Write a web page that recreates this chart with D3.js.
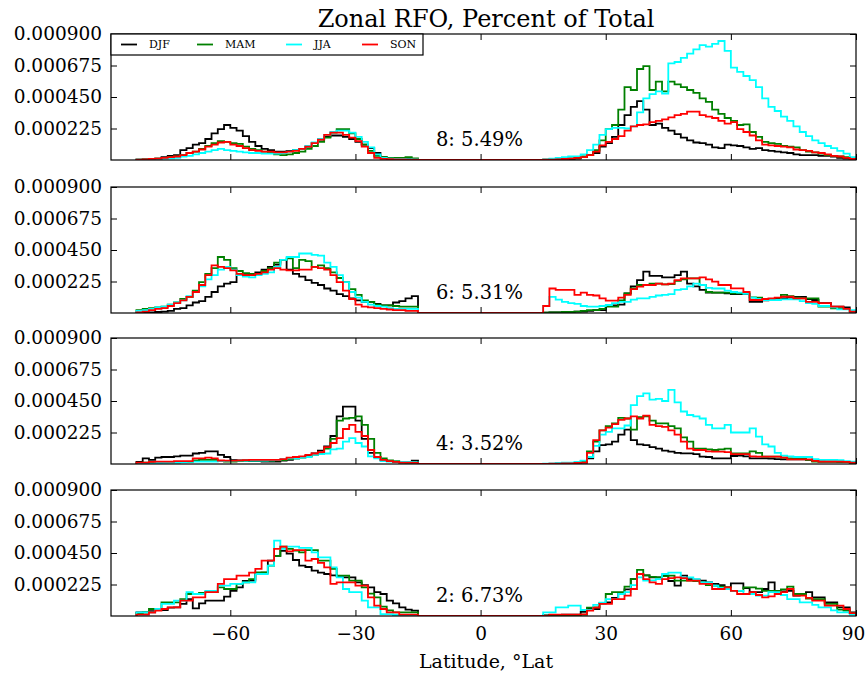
<!DOCTYPE html>
<html>
<head>
<meta charset="utf-8">
<script src="https://d3js.org/d3.v7.min.js"></script>
<style>
  body { margin: 0; background: #fff; }
  svg text { font-family: "DejaVu Serif", serif; fill: #000; }
</style>
</head>
<body>
<div id="chart"></div>
<script>
// histogram values are in units of 1e-5, one value per 1.5 deg latitude bin
var UNIT = 1e-5;
var binWidth = 1.5;
var southStart = -82.5;  // south bins run from -82.5 to -15
var northStart = 15;     // north bins run from 15 to 90

var seasons = ["DJF", "MAM", "JJA", "SON"];
var seasonColors = ["#000000", "#008000", "#00ffff", "#ff0000"];
var panelIds = [8, 6, 4, 2];
var panelPct = ["5.49", "5.31", "3.52", "6.73"];
var yTicks = [0.000225, 0.000450, 0.000675, 0.000900];
var xTicks = [-60, -30, 0, 30, 60, 90];

// ---- panel 8 ----
var djf8S = [0.3,0.5,0.8,1,2,3,3.5,7,8.5,11, 12,15,19,22,25,23,21,17,13,10, 8,7,6,6,6.5,7,8,9.5,12,14.5, 16.5,17.5,17.5,16.5,15,13,11,8.5,5,2, 1.5,1.2,1,1,0.8];
var mam8S = [0.3,0.5,0.8,1,1.5,2,2.5,3.5,5,6, 8,10,12,13.5,13,12,11.5,9.5,8,7, 6,5,4,3.5,4,5,6,8,10,13, 16,19.5,22,22,19,15,11,6.5,3,2, 1.5,1.5,1.5,2,1.2];
var jja8S = [0.2,0.3,0.5,0.7,1,1.2,1.5,2.5,3,4, 5,6,7,8,7,6.5,6,5.5,5,5, 4.5,4.5,4.5,5,6,7,8,10,12.5,15, 18,20,21,21,19.5,16.5,13,9,4,1.5, 1,0.8,0.7,0.6,0.5];
var son8S = [0.3,0.5,0.8,1,1.5,2,2.5,3.5,5,6, 7.5,9.5,11,12.5,13,11,10,8.5,7,6.5, 6,6,5.5,5.5,6,6.5,8,9.5,12,14.5, 18,19.5,19.5,18,16,13.5,9.5,5,1.5,0.8, 0.6,0.5,0.4,0.3,0.3];
var djf8N = [0,0.2,0.3,0.5,0.7,1,2,3.5,5,9.5, 12,16.5,25,32,38,42,36,25,26,23, 21,18.5,16,14,12.5,12,11,9,8.5,11, 10.5,10,9,8,8.5,7,6.5,6,5.5,5, 4,3.5,3.5,3.5,3,3,2.5,1.5,1,0.5];
var mam8N = [0.3,0.5,0.7,1,1.2,1.5,2.5,3.5,7,14, 22,25,36,52,50,65,67,50,56,49, 56,54,52,50,48,44,41.5,36,33,30, 28,25,25.5,20,16.5,13,12,11.5,10,9.5, 9,7,6,5.5,4.5,3.5,3,2.5,2,1];
var jja8N = [0.5,1,1.5,2,2.5,2.5,4,7,11,18, 22,23,23,22.5,24,34,44,47,49,47.5, 69,70,73,76,79,82,81,83,85,78, 66,63,60,57,52,44,38,35,31,28, 24,20,17,14,12,10,8.5,6.5,4.5,2];
var son8N = [0.2,0.3,0.5,0.7,1,1.5,2,3.5,6,10.5, 13,15,17,21,24,25,25.5,27,28,29, 30.5,32,33,34.5,34.5,32,31,30,28,26, 27,22,20,17.5,14,11,10.5,10,9.5,9, 7.5,7,6.5,5.5,5,4,3,2.5,1.5,0.7];

// ---- panel 6 ----
var djf6S = [0.2,0.3,0.5,0.7,1,1.5,3,3.5,5.5,7.5, 8.5,11.5,15,19,21,22,27,27,27.5,29, 31,33,34.5,38,31,28,26,23.5,21.5,20, 17.5,16,13.5,12,10.5,9,8,8,6.5,5.5, 5.5,7.5,8.5,10.5,12];
var mam6S = [2,3,3.5,4,4.5,6,7.5,10,11.5,16, 22,28,32,40,38,32,30,28.5,28,28, 30,32,36,38,39,32,38,37,33,34, 32,29,25,22,17,13,9,8,6,5.5, 5.5,5,4.5,4.5,4.5];
var jja6S = [1.5,2,3,4,4.5,6,7.5,9,12,15, 19,24,27,31,33,31,27,26,25.5,27, 28,29,33,38,40,40,42.5,42.5,41.5,41, 36,33,27,22,15,11,8,6,5,4.5, 3.5,3,3,3,3];
var son6S = [0.5,1,2,3,3.5,5,7,9,11.5,15, 20,27,34,33,32,30.5,28,27,27,28, 29,31,32,31,30.5,30.5,31,31,33,32, 31,27,22,16,10,6,4.5,4,3.5,3, 2.5,2,2,1.5,1.5];
var djf6N = [0.3,0.5,0.5,0.5,0.7,1,1,1.5,2,2, 5,5.5,6,14,19,23.5,29.5,26.5,26.5,25.5, 25.5,27,29.5,21,19,16.5,14.5,14.5,14.5,14, 13.5,13.5,13.5,8,8,9,9.5,10,10.5,11, 11.5,11.5,10,9.3,7,7,4.5,4.5,4,1];
var mam6N = [0.3,0.5,0.5,0.7,0.7,1,1.5,2,2,3, 4.5,4.5,9,14,17.5,20,20,21,21,20.5, 20.7,23,24,24.8,24.8,20,15,14.5,14.5,14.5, 14,14,14,11.2,11,10,9.8,9.8,12.9,12, 11,10.5,10.5,10.5,4.5,4.5,3.3,3.3,3,1.5];
var jja6N = [5,11.5,9.5,8,7,6.5,5,4.5,4.5,5, 5.7,7,8,8,9.5,10.5,10.5,11.5,12.5,13, 13.5,16.5,17,19,21,20,18,17.5,17.5,16, 15,14.5,13.6,11,10,9.3,9.3,9.3,9.8,9.8, 9.8,8.5,7,6.5,5,5,4,2.6,2.6,2];
var son6N = [5,17.5,16.5,16.5,16.5,13,14.5,13,12.5,10.5, 8.8,8.8,11,13,17,18.8,20,20,21,20.5, 21,23.5,24.8,24.8,24.8,25.5,24,22.4,20,20, 17.6,17.6,15,9.3,9.3,10,10.5,11,11.6,11.6, 10.5,10.5,8,8,7,7,4.5,4.5,3,1];

// ---- panel 4 ----
var djf4S = [1.5,4,3,4.5,5,5,5.5,6,6,7.5, 8,9,9,6.5,5,3,2.5,2.5,2,2, 1.8,1.8,1.8,2.5,3,4,5,6,7.5,9.5, 12.5,20,34,41,41,31,18,8,5,3, 2,1.5,1.2,1.2,2.4];
var mam4S = [0.5,1,1,1,1.2,1.2,1.2,1.5,1.5,2.5, 3,3,3,2,1.7,1.7,2,2.4,2.4,2.4, 2.4,2.4,2.6,2.8,3.5,4,4.5,5.5,6.5,8, 11,18,31,32.5,33,34,28,18,8,4, 2.5,2,1.2,1,1];
var jja4S = [0.3,0.5,0.5,0.7,0.8,1,1,1.2,1.5,1.7, 1.7,1.7,1.7,2,2.2,2.4,2.4,2.4,2.4,2.4, 2.4,2.6,2.8,3.5,4,4,4.5,5,6.5,7, 7.5,10.5,11,16,18.5,15,12.5,5.5,4,2, 1.7,1.7,1.5,1.5,1.2];
var son4S = [1,1,1.5,1.7,1.7,1.7,2,2,2,4, 4,4.5,4,2.5,2.4,2.4,2.6,2.8,2.9,2.9, 2.9,2.9,3,3.5,4.5,5,5.5,6.5,7.5,8.5, 12,15,18.5,25,28,23,20,10,5,2.9, 2,1.5,1,1,0.8];
var djf4N = [0,0,0,0.3,0.5,0.5,1,4,9,13.5, 14,16,21,24.5,17,14,13.5,12,11,9.5, 8.8,8,7.6,7.6,7,5.2,5,4,4,4, 5.7,6,5.5,4,4,4,3.8,3.5,3.3,3.3, 3.3,3.3,3,2,1.8,1.7,1.7,1.5,1.5,1];
var mam4N = [0,0,0,0.3,0.5,0.7,2,9,16,24, 27,29,33,32.5,24.5,33.5,34,31,29,29, 27,25.5,19,16,11,11,10.5,10,10.5,11, 7.5,7.5,7.5,9,8,5.2,5.2,5.2,4.5,4, 4,4,3,1.7,1.7,1.7,1.7,1.5,1.5,1];
var jja4N = [0.3,0.5,0.7,1,1,1.5,2.4,5,13,21, 23,25.5,25.5,27.5,42,48.5,50.5,46,46.5,45, 53,44,37.5,35,34,32.5,28,25.5,25.5,28, 22.5,22.5,22.5,25.5,19.5,14,12.5,8,6,5.5, 5,5,5,3.5,3,3,3,2.8,2,1.7];
var son4N = [0,0.2,0.3,0.5,0.5,0.7,1,8,17,24, 26,28.5,31.5,32.5,34,32.5,34.5,28,27,26.5, 24,21,16,11,10,10,9,8.8,8.8,8.5, 7,7,7,5.5,5.2,5.2,5.2,5.2,4.5,3.3, 3.3,3.3,3.3,2.2,1.7,1.7,1.7,1.7,1.5,1];

// ---- panel 2 ----
var djf2S = [2.5,2.6,3.5,4.3,4.3,6,6.2,8.6,12,5.5, 9,11,11,11,13.8,18,20.5,25,25.2,30, 31,39.5,43,46.5,44.5,40,36,35,32.4,31, 30,29,28.5,27.6,27.6,24,22,20.5,17,15.7, 11,9,6.2,4.5,3.8];
var mam2S = [2,2.6,5,5,9.8,9.8,9.8,12,15.7,15.7, 16.5,17,17,20.5,19.3,19.3,22.9,24,26.4,31.2, 31.2,36,43,49.5,48,46.7,45.5,47,47,39.5, 39.5,33.6,28.8,28.8,25.2,25.2,20.5,16,13.3,6.7, 4,2.6,2.6,2.6,2.6];
var jja2S = [2.6,2.6,2.6,5,8.6,8.6,11,11,17,15.7, 15.7,18,18,21.7,21.7,22.9,22.9,24,24,30, 30,36,53.8,48,49.5,49.5,48.6,48.6,45.5,41.9, 41.9,34.8,27.6,19.3,17,17,11,6.2,6.2,1.4, 1.4,0.7,0.7,0.7,0.7];
var son2S = [1,1,2.5,3.8,5,6.2,6.2,11,11,13.3, 13.3,17,17,22.9,26.4,26.4,28.8,28.8,31,33.6, 39.5,39.5,47.9,49.5,46.2,47.1,47.1,39.5,40.7,38, 34.8,22.9,24,24,24,21.7,21.7,13.3,7.4,5, 2.6,2.6,1,1,1];
var djf2N = [0.5,0.7,0.7,1,1,1,3,5,5,9, 9.8,13,15.7,19,26.4,30,29,27.6,27.6,28.8, 25,21.7,28.8,26.4,26,25.2,24,22.9,22,20.5, 23.3,23.3,20,17,17,19.3,24,17,17.5,18, 14.5,15.5,17,13.3,13.3,9.8,9.8,6.2,6.2,2.6];
var mam2N = [0.3,0.5,0.5,0.7,0.7,0.7,1,6,6.2,9, 15.7,17,17,21,26.4,33,29,28,27.6,28.5, 28.8,25.2,25.2,25.2,25,24,22,21.7,21,20.5, 18,18,20.5,20.5,19.5,18,18,18,19,21, 15.7,15.7,12.5,12,12,8.6,8.6,4.5,3.8,2];
var jja2N = [2.6,2.6,6.2,6.2,7.4,7.4,4.3,4.3,8,9.5, 12,12,15.7,17,22,27.6,25.2,25.5,26.4,30, 31,31,27.6,27.6,26.4,24,24,21.7,20,19.3, 18,18,15.7,15.7,14.5,14.5,17,17,15,12, 12,9.8,9.8,8,6.2,6.2,4,2.6,2.6,1];
var son2N = [0,1,1,1,1,1,1.2,3.8,6,8.6, 8.6,12,12,14.5,19.3,30,26.4,24,22.9,26.4, 27,27.6,27,25.2,25.2,22.9,22.9,19.3,19.3,20.5, 18,15.7,15.7,17,15,13.3,14,15.7,17,19.3, 14.5,14.5,13,11,11,7.4,7.4,7.4,5,2];

// series per panel, in season order
var panelSeries = [
  [[djf8S, djf8N], [mam8S, mam8N], [jja8S, jja8N], [son8S, son8N]],
  [[djf6S, djf6N], [mam6S, mam6N], [jja6S, jja6N], [son6S, son6N]],
  [[djf4S, djf4N], [mam4S, mam4N], [jja4S, jja4N], [son4S, son4N]],
  [[djf2S, djf2N], [mam2S, mam2N], [jja2S, jja2N], [son2S, son2N]]
];

// ---- layout ----
var svgWidth = 866;
var svgHeight = 673;
var plotLeft = 111;
var plotRight = 856;
var panelTops = [34, 187, 338, 490];
var panelHeight = 126;
var tickLen = 6;

var svg = d3.select("#chart")
  .append("svg")
  .attr("width", svgWidth)
  .attr("height", svgHeight);

var xScale = d3.scaleLinear()
  .domain([-88.6, 90])
  .range([plotLeft, plotRight]);

var yScale = d3.scaleLinear()
  .domain([0, 0.0009])
  .range([panelHeight, 0]);

// build the step outline of one histogram (south block, gap, north block)
function histPoints(south, north) {
  var pts = [[southStart, 0]];
  south.forEach(function(v, i) { pts.push([southStart + i * binWidth, v * UNIT]); });
  pts.push([southStart + south.length * binWidth, 0]);
  north.forEach(function(v, i) { pts.push([northStart + i * binWidth, v * UNIT]); });
  pts.push([northStart + north.length * binWidth, 0]);
  return pts;
}

var line = d3.line()
  .x(function(d) { return xScale(d[0]); })
  .y(function(d) { return yScale(d[1]); })
  .curve(d3.curveStepAfter);

svg.append("defs").append("clipPath")
  .attr("id", "plotClip")
  .append("rect")
  .attr("x", plotLeft)
  .attr("y", 0)
  .attr("width", plotRight - plotLeft)
  .attr("height", panelHeight);

panelTops.forEach(function(top, p) {
  var g = svg.append("g").attr("transform", "translate(0," + top + ")");

  // histogram lines
  var lines = g.append("g").attr("clip-path", "url(#plotClip)");
  panelSeries[p].forEach(function(s, k) {
    lines.append("path")
      .attr("d", line(histPoints(s[0], s[1])))
      .attr("fill", "none")
      .attr("stroke", seasonColors[k])
      .attr("stroke-width", 1.8)
      .attr("stroke-linejoin", "miter");
  });

  // left axis with labels, ticks pointing inward
  var leftAxis = d3.axisLeft(yScale)
    .tickValues(yTicks)
    .tickFormat(d3.format(".6f"))
    .tickSizeInner(-tickLen)
    .tickSizeOuter(0)
    .tickPadding(9);
  var la = g.append("g").attr("transform", "translate(" + plotLeft + ",0)").call(leftAxis);
  la.select(".domain").remove();
  la.selectAll("text").attr("font-size", "18.5px").attr("font-family", "DejaVu Serif");

  var rightAxis = d3.axisRight(yScale)
    .tickValues(yTicks).tickFormat("").tickSizeInner(-tickLen).tickSizeOuter(0);
  g.append("g").attr("transform", "translate(" + plotRight + ",0)").call(rightAxis)
    .select(".domain").remove();

  var topAxis = d3.axisTop(xScale)
    .tickValues(xTicks).tickFormat("").tickSizeInner(-tickLen).tickSizeOuter(0);
  g.append("g").call(topAxis).select(".domain").remove();

  var bottomAxis = d3.axisBottom(xScale)
    .tickValues(xTicks)
    .tickFormat(p === panelTops.length - 1 ? d3.format("") : "")
    .tickSizeInner(-tickLen)
    .tickSizeOuter(0)
    .tickPadding(11);
  var ba = g.append("g").attr("transform", "translate(0," + panelHeight + ")").call(bottomAxis);
  ba.select(".domain").remove();
  ba.selectAll("text").attr("font-size", "18.5px").attr("font-family", "DejaVu Serif");
  // keep the last label inside the window
  ba.selectAll("text").filter(function(d) { return d === 90; }).attr("dx", "-3");

  g.selectAll(".tick line").attr("stroke", "#000").attr("stroke-width", 1);

  // frame
  g.append("rect")
    .attr("x", plotLeft)
    .attr("y", 0)
    .attr("width", plotRight - plotLeft)
    .attr("height", panelHeight)
    .attr("fill", "none")
    .attr("stroke", "#000")
    .attr("stroke-width", 1.2);

  // panel annotation
  g.append("text")
    .attr("x", xScale(-10.7))
    .attr("y", yScale(0.0001))
    .attr("font-size", "19.5px")
    .text(panelIds[p] + ": " + panelPct[p] + "%");
});

// legend in the top panel
var legendItemX = [121, 197, 286, 362];
var legend = svg.append("g").attr("transform", "translate(0," + panelTops[0] + ")");
legend.append("rect")
  .attr("x", plotLeft)
  .attr("y", 0)
  .attr("width", 312)
  .attr("height", 21)
  .attr("fill", "#fff")
  .attr("stroke", "#000")
  .attr("stroke-width", 1.2);
seasons.forEach(function(s, k) {
  legend.append("line")
    .attr("x1", legendItemX[k])
    .attr("x2", legendItemX[k] + 16)
    .attr("y1", 10.5)
    .attr("y2", 10.5)
    .attr("stroke", seasonColors[k])
    .attr("stroke-width", 1.8);
  legend.append("text")
    .attr("x", legendItemX[k] + 28)
    .attr("y", 10.5)
    .attr("dy", "0.36em")
    .attr("font-size", "11px")
    .text(s);
});

// title and x label
svg.append("text")
  .attr("x", 486)
  .attr("y", 27)
  .attr("text-anchor", "middle")
  .attr("font-size", "24px")
  .text("Zonal RFO, Percent of Total");

svg.append("text")
  .attr("x", 486)
  .attr("y", 668)
  .attr("text-anchor", "middle")
  .attr("font-size", "19px")
  .text("Latitude, \u00B0Lat");
</script>
</body>
</html>
